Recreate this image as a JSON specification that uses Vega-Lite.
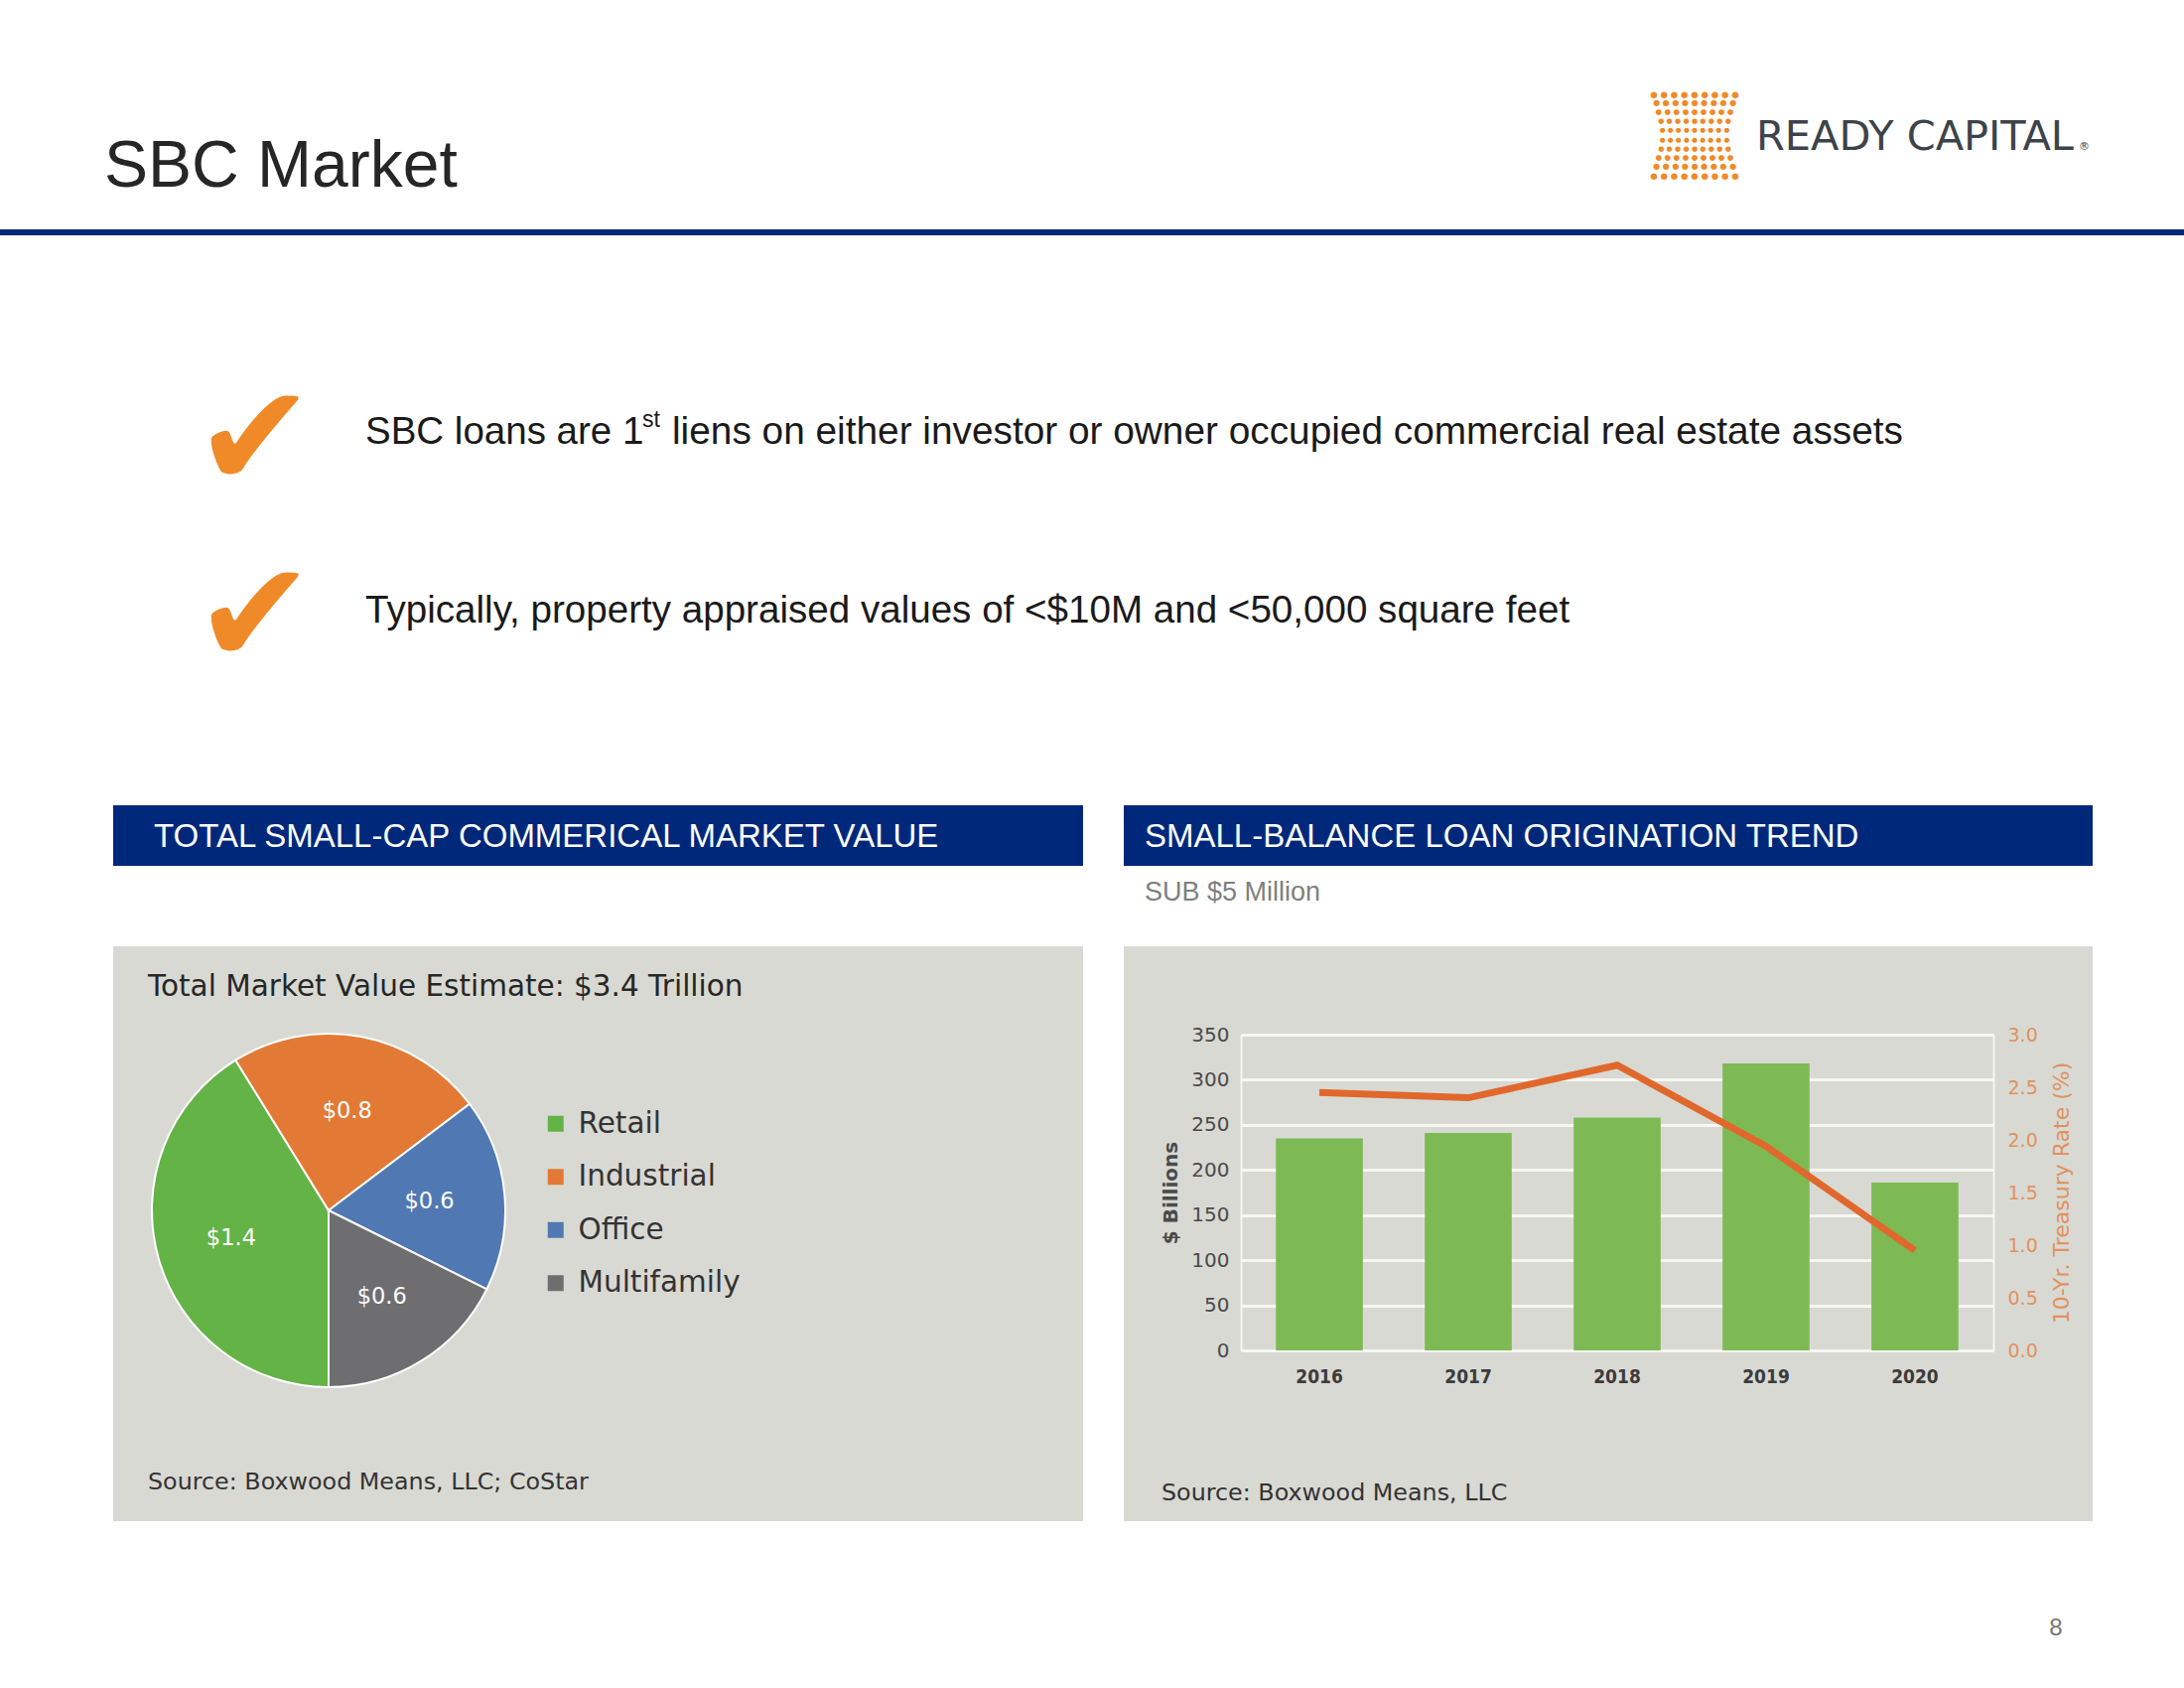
{
  "$schema": "https://vega.github.io/schema/vega-lite/v6.json",
  "background": "white",
  "padding": 0,
  "bounds": "flush",
  "spacing": 0,
  "config": {"view": {"stroke": null}},
  "vconcat": [
    {
      "width": 2200,
      "height": 1042,
      "data": {"values": [{}]},
      "layer": [
        {"mark": {"type": "rect", "x": 114, "x2": 1091, "y": 953, "y2": 1532, "color": "#d9d9d3"}},
        {"mark": {"type": "rect", "x": 1132, "x2": 2108, "y": 953, "y2": 1532, "color": "#d9d9d3"}},
        {"mark": {"type": "rect", "x": 114, "x2": 1091, "y": 811, "y2": 872, "color": "#00287a"}},
        {"mark": {"type": "rect", "x": 1132, "x2": 2108, "y": 811, "y2": 872, "color": "#00287a"}},
        {"mark": {"type": "rect", "x": 0, "x2": 2200, "y": 231, "y2": 237, "color": "#00287a"}},
        {"mark": {"type": "text", "x": 105, "y": 188, "text": "SBC Market", "font": "Liberation Sans", "fontSize": 66, "color": "#262626", "align": "left", "baseline": "alphabetic"}},
        {"mark": {"type": "text", "x": 1707, "y": 95, "text": "● ● ● ● ● ● ● ● ●", "font": "DejaVu Sans", "fontSize": 8.6, "color": "#ef8a2a", "align": "center", "baseline": "middle"}},
        {"mark": {"type": "text", "x": 1707, "y": 104, "text": "● ● ● ● ● ● ● ● ●", "font": "DejaVu Sans", "fontSize": 8.1, "color": "#ef8a2a", "align": "center", "baseline": "middle"}},
        {"mark": {"type": "text", "x": 1707, "y": 113, "text": "● ● ● ● ● ● ● ● ●", "font": "DejaVu Sans", "fontSize": 7.6, "color": "#ef8a2a", "align": "center", "baseline": "middle"}},
        {"mark": {"type": "text", "x": 1707, "y": 122, "text": "● ● ● ● ● ● ● ● ●", "font": "DejaVu Sans", "fontSize": 7.1, "color": "#ef8a2a", "align": "center", "baseline": "middle"}},
        {"mark": {"type": "text", "x": 1707, "y": 131, "text": "● ● ● ● ● ● ● ● ●", "font": "DejaVu Sans", "fontSize": 6.8, "color": "#ef8a2a", "align": "center", "baseline": "middle"}},
        {"mark": {"type": "text", "x": 1707, "y": 141, "text": "● ● ● ● ● ● ● ● ●", "font": "DejaVu Sans", "fontSize": 6.8, "color": "#ef8a2a", "align": "center", "baseline": "middle"}},
        {"mark": {"type": "text", "x": 1707, "y": 150, "text": "● ● ● ● ● ● ● ● ●", "font": "DejaVu Sans", "fontSize": 7.1, "color": "#ef8a2a", "align": "center", "baseline": "middle"}},
        {"mark": {"type": "text", "x": 1707, "y": 159, "text": "● ● ● ● ● ● ● ● ●", "font": "DejaVu Sans", "fontSize": 7.6, "color": "#ef8a2a", "align": "center", "baseline": "middle"}},
        {"mark": {"type": "text", "x": 1707, "y": 168, "text": "● ● ● ● ● ● ● ● ●", "font": "DejaVu Sans", "fontSize": 8.1, "color": "#ef8a2a", "align": "center", "baseline": "middle"}},
        {"mark": {"type": "text", "x": 1707, "y": 177, "text": "● ● ● ● ● ● ● ● ●", "font": "DejaVu Sans", "fontSize": 8.6, "color": "#ef8a2a", "align": "center", "baseline": "middle"}},
        {"mark": {"type": "text", "x": 1769, "y": 151, "text": "READY CAPITAL", "font": "DejaVu Sans", "fontSize": 41.5, "color": "#3d434a", "align": "left", "baseline": "alphabetic"}},
        {"mark": {"type": "text", "x": 2094, "y": 151, "text": "®", "font": "DejaVu Sans", "fontSize": 11, "color": "#3d434a", "align": "left", "baseline": "alphabetic"}},
        {"mark": {"type": "text", "x": 196, "y": 490, "text": "✔", "font": "DejaVu Sans", "fontSize": 145, "color": "#f08a28", "align": "left", "baseline": "alphabetic"}},
        {"mark": {"type": "text", "x": 196, "y": 668, "text": "✔", "font": "DejaVu Sans", "fontSize": 145, "color": "#f08a28", "align": "left", "baseline": "alphabetic"}},
        {"mark": {"type": "text", "x": 368, "y": 447, "text": "SBC loans are 1", "font": "Liberation Sans", "fontSize": 38.5, "color": "#1a1a1a", "align": "left", "baseline": "alphabetic"}},
        {"mark": {"type": "text", "x": 647, "y": 430, "text": "st", "font": "Liberation Sans", "fontSize": 23, "color": "#1a1a1a", "align": "left", "baseline": "alphabetic"}},
        {"mark": {"type": "text", "x": 677, "y": 447, "text": "liens on either investor or owner occupied commercial real estate assets", "font": "Liberation Sans", "fontSize": 38.8, "color": "#1a1a1a", "align": "left", "baseline": "alphabetic"}},
        {"mark": {"type": "text", "x": 368, "y": 627, "text": "Typically, property appraised values of <$10M and <50,000 square feet", "font": "Liberation Sans", "fontSize": 38.6, "color": "#1a1a1a", "align": "left", "baseline": "alphabetic"}},
        {"mark": {"type": "text", "x": 155, "y": 853, "text": "TOTAL SMALL-CAP COMMERICAL MARKET VALUE", "font": "Liberation Sans", "fontSize": 33, "color": "white", "align": "left", "baseline": "alphabetic"}},
        {"mark": {"type": "text", "x": 1153, "y": 853, "text": "SMALL-BALANCE LOAN ORIGINATION TREND", "font": "Liberation Sans", "fontSize": 33, "color": "white", "align": "left", "baseline": "alphabetic"}},
        {"mark": {"type": "text", "x": 1153, "y": 907, "text": "SUB $5 Million", "font": "Liberation Sans", "fontSize": 27, "color": "#7f7f7f", "align": "left", "baseline": "alphabetic"}},
        {"mark": {"type": "text", "x": 149, "y": 1003, "text": "Total Market Value Estimate: $3.4 Trillion", "font": "DejaVu Sans", "fontSize": 29.5, "color": "#262626", "align": "left", "baseline": "alphabetic"}},
        {"mark": {"type": "text", "x": 149, "y": 1500, "text": "Source: Boxwood Means, LLC; CoStar", "font": "DejaVu Sans", "fontSize": 23.8, "color": "#333333", "align": "left", "baseline": "alphabetic"}},
        {"mark": {"type": "text", "x": 1170, "y": 1511, "text": "Source: Boxwood Means, LLC", "font": "DejaVu Sans", "fontSize": 23.8, "color": "#333333", "align": "left", "baseline": "alphabetic"}},
        {"mark": {"type": "text", "x": 2071, "y": 1647, "text": "8", "font": "Liberation Sans", "fontSize": 24, "color": "#777777", "align": "center", "baseline": "alphabetic"}}
      ]
    },
    {
      "bounds": "flush",
      "spacing": 0,
      "hconcat": [
        {
          "width": 1250,
          "height": 318,
          "data": {"values": [
            {"sector": "Retail", "value": 1.4, "rank": 1},
            {"sector": "Industrial", "value": 0.8, "rank": 2},
            {"sector": "Office", "value": 0.6, "rank": 3},
            {"sector": "Multifamily", "value": 0.6, "rank": 4}
          ]},
          "encoding": {
            "theta": {"field": "value", "type": "quantitative", "stack": true, "scale": {"range": [3.14159265, 9.42477796], "nice": false, "zero": true}},
            "order": {"field": "rank", "type": "quantitative"},
            "x": {"value": 331},
            "y": {"value": 177}
          },
          "layer": [
            {
              "mark": {"type": "arc", "outerRadius": 178, "stroke": "white", "strokeWidth": 2},
              "encoding": {
                "color": {
                  "field": "sector", "type": "nominal",
                  "scale": {"domain": ["Retail", "Industrial", "Office", "Multifamily"], "range": ["#63b347", "#e27a36", "#5079b3", "#6e6e70"]},
                  "legend": {"orient": "none", "legendX": 545, "legendY": 1117, "title": null, "symbolType": "square", "symbolSize": 256, "symbolStrokeWidth": 0, "symbolOpacity": 1, "labelFont": "DejaVu Sans", "labelFontSize": 29.5, "labelColor": "#333333", "labelOffset": 8, "labelLimit": 0, "rowPadding": 22.5, "padding": 0}
                }
              }
            },
            {
              "mark": {"type": "text", "radius": 102, "font": "DejaVu Sans", "fontSize": 22.5, "color": "white"},
              "encoding": {
                "detail": {"field": "sector"},
                "text": {"field": "value", "type": "quantitative", "format": "$.1f"}
              }
            }
          ]
        },
        {
          "width": 758,
          "height": 318,
          "data": {"values": [
            {"year": "2016", "loans": 235, "rate": 2.45},
            {"year": "2017", "loans": 241, "rate": 2.40},
            {"year": "2018", "loans": 258, "rate": 2.71},
            {"year": "2019", "loans": 318, "rate": 1.94},
            {"year": "2020", "loans": 186, "rate": 0.95}
          ]},
          "encoding": {
            "x": {
              "field": "year", "type": "ordinal",
              "scale": {"paddingInner": 0.416, "paddingOuter": 0.235},
              "axis": {"title": null, "ticks": false, "domain": false, "labelAngle": 0, "labelFont": "DejaVu Sans Condensed", "labelFontWeight": "bold", "labelFontSize": 19, "labelColor": "#3c3c3c", "labelPadding": 17}
            }
          },
          "layer": [
            {
              "mark": {"type": "bar", "color": "#7dba54"},
              "encoding": {
                "y": {
                  "field": "loans", "type": "quantitative",
                  "scale": {"domain": [0, 350], "nice": false},
                  "axis": {"orient": "left", "title": "$ Billions", "values": [0, 50, 100, 150, 200, 250, 300, 350], "grid": true, "gridColor": "#f6f6f2", "gridWidth": 3, "domain": true, "domainColor": "#f6f6f2", "domainWidth": 2, "ticks": false, "labelFont": "DejaVu Sans", "labelFontSize": 20, "labelColor": "#4a4a4a", "labelPadding": 12, "titleFont": "DejaVu Sans", "titleFontWeight": "bold", "titleFontSize": 20, "titleColor": "#4a4a4a", "titlePadding": 10}
                }
              }
            },
            {
              "mark": {"type": "line", "color": "#e0682d", "strokeWidth": 7},
              "encoding": {
                "y": {
                  "field": "rate", "type": "quantitative",
                  "scale": {"domain": [0, 3], "nice": false},
                  "axis": {"orient": "right", "title": "10-Yr. Treasury Rate (%)", "values": [0, 0.5, 1, 1.5, 2, 2.5, 3], "format": ".1f", "grid": false, "domain": true, "domainColor": "#f6f6f2", "domainWidth": 2, "ticks": false, "labelFont": "DejaVu Sans", "labelFontSize": 19, "labelColor": "#e0925e", "labelPadding": 14, "titleFont": "DejaVu Sans", "titleFontWeight": "normal", "titleFontSize": 22, "titleColor": "#e0925e", "titleAngle": 270, "titleBaseline": "top", "titlePadding": 14}
                }
              }
            }
          ],
          "resolve": {"scale": {"y": "independent"}}
        }
      ]
    }
  ]
}
